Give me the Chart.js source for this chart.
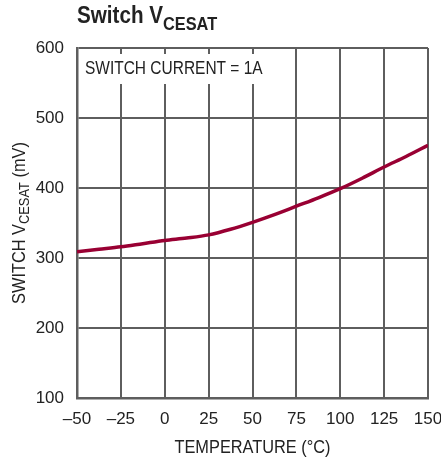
<!DOCTYPE html>
<html>
<head>
<meta charset="utf-8">
<script src="https://cdn.jsdelivr.net/npm/chart.js@4/dist/chart.umd.min.js"></script>
<style>
html,body{margin:0;padding:0;background:#fff;}
canvas{display:block;}
</style>
</head>
<body>
<canvas id="c" width="441" height="459"></canvas>
<script>
// ---- data ----
const temperatures = [-50, -37.5, -25, -12.5, 0, 12.5, 25, 37.5, 50, 62.5, 75, 87.5, 100, 112.5, 125, 137.5, 150];
const vcesatMilliVolts = [309, 312.5, 316, 320.5, 325, 328.5, 333, 341, 351, 362, 374, 386, 399, 414, 430, 445, 461];
const xTickValues = [-50, -25, 0, 25, 50, 75, 100, 125, 150];
const yTickValues = [100, 200, 300, 400, 500, 600];
const chartTitle = ["Switch V", "CESAT"];
const yTitle = ["SWITCH V", "CESAT", " (mV)"];
const xTitle = "TEMPERATURE (°C)";
const note = "SWITCH CURRENT = 1A";

const FONT = "'Liberation Sans', Arial, sans-serif";
const TXT = '#222';
const GRID = '#5e5e5e';
const CONDENSE = 0.86;

// draw text horizontally condensed (reference uses a condensed face)
function drawText(ctx, text, x, y, font, align) {
  ctx.save();
  ctx.font = font;
  const w = ctx.measureText(text).width * CONDENSE;
  let x0 = x;
  if (align === 'center') x0 = x - w / 2;
  else if (align === 'right') x0 = x - w;
  ctx.translate(x0, y);
  ctx.scale(CONDENSE, 1);
  ctx.textAlign = 'left';
  ctx.fillText(text, 0, 0);
  ctx.restore();
  return w;
}
function widthOf(ctx, text, font) {
  ctx.save(); ctx.font = font;
  const w = ctx.measureText(text).width * CONDENSE;
  ctx.restore(); return w;
}

const textPlugin = {
  id: 'texts',
  beforeDatasetsDraw(chart) {
    const ctx = chart.ctx, a = chart.chartArea;
    ctx.save();
    ctx.fillStyle = '#fff';
    ctx.fillRect(a.left + 2, a.top + 6, 193, 30);
    ctx.fillStyle = TXT;
    ctx.textBaseline = 'alphabetic';
    drawText(ctx, note, a.left + 8, a.top + 26, '18px ' + FONT, 'left');
    ctx.restore();
  },
  afterDraw(chart) {
    const ctx = chart.ctx, a = chart.chartArea;
    ctx.save();
    ctx.fillStyle = TXT;
    ctx.textBaseline = 'alphabetic';
    // title
    const w0 = drawText(ctx, chartTitle[0], 77, 23, 'bold 24px ' + FONT, 'left');
    drawText(ctx, chartTitle[1], 77 + w0, 30, 'bold 19px ' + FONT, 'left');
    // x title
    drawText(ctx, xTitle, (a.left + a.right) / 2, 453, '19px ' + FONT, 'center');
    // y title (rotated)
    ctx.translate(25, (a.top + a.bottom) / 2);
    ctx.rotate(-Math.PI / 2);
    const big = '19px ' + FONT, small = '15px ' + FONT;
    const wa = widthOf(ctx, yTitle[0], big), wb = widthOf(ctx, yTitle[1], small), wc = widthOf(ctx, yTitle[2], big);
    let x = -(wa + wb + wc) / 2;
    drawText(ctx, yTitle[0], x, 0, big, 'left'); x += wa;
    drawText(ctx, yTitle[1], x, 4, small, 'left'); x += wb;
    drawText(ctx, yTitle[2], x, 0, big, 'left');
    ctx.restore();
  }
};

new Chart(document.getElementById('c'), {
  type: 'line',
  data: {
    datasets: [{
      data: temperatures.map((t, i) => ({ x: t, y: vcesatMilliVolts[i] })),
      borderColor: '#990033',
      borderWidth: 3.5,
      pointRadius: 0,
      cubicInterpolationMode: 'monotone',
      fill: false
    }]
  },
  options: {
    responsive: false,
    devicePixelRatio: 1,
    animation: false,
    layout: { padding: { left: 0, right: 13, top: 48, bottom: 0 } },
    plugins: { legend: { display: false }, tooltip: { enabled: false } },
    scales: {
      x: {
        type: 'linear', min: -50, max: 150,
        afterBuildTicks: s => { s.ticks = xTickValues.map(v => ({ value: v })); },
        afterFit: s => { s.height = 61; s.paddingRight = 0; s.paddingLeft = 0; },
        grid: { color: GRID, lineWidth: 2, drawTicks: false },
        border: { display: true, color: GRID, width: 2.5 },
        ticks: {
          color: TXT, padding: 11, maxRotation: 0, autoSkip: false,
          font: { family: FONT, size: 17 },
          callback: v => String(v).replace('-', '–')
        }
      },
      y: {
        type: 'linear', min: 100, max: 600,
        afterBuildTicks: s => { s.ticks = yTickValues.map(v => ({ value: v })); },
        afterFit: s => { s.width = 77; s.paddingTop = 0; s.paddingBottom = 0; },
        grid: { color: GRID, lineWidth: 2, drawTicks: false },
        border: { display: true, color: GRID, width: 2.5 },
        ticks: {
          color: TXT, padding: 13, autoSkip: false,
          font: { family: FONT, size: 17 }
        }
      }
    }
  },
  plugins: [textPlugin]
});
</script>
</body>
</html>
